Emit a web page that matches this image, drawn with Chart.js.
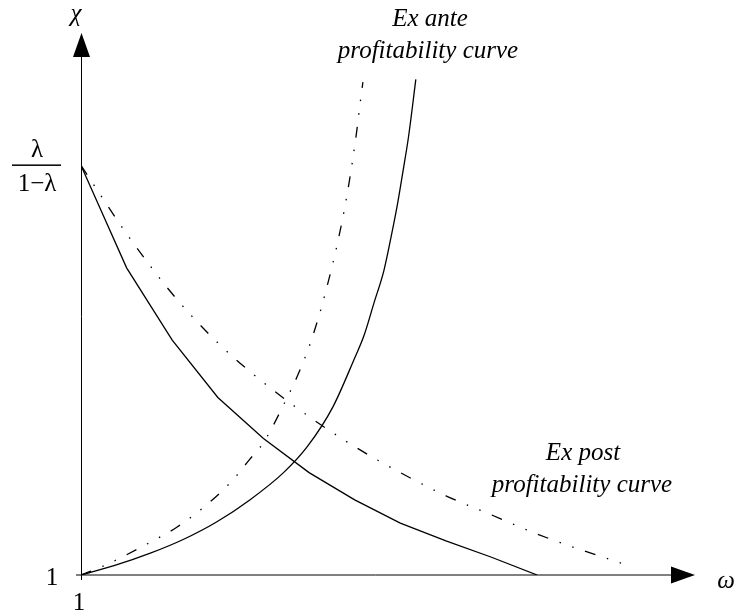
<!DOCTYPE html>
<html>
<head>
<meta charset="utf-8">
<script src="https://cdn.jsdelivr.net/npm/chart.js@4"></script>
<style>
  body { margin: 0; background: #fff; }
</style>
</head>
<body>
<canvas id="chart" width="736" height="614"></canvas>
<script>
// Ex post curves (decreasing in omega)
const postSolidX = [1, 1.5, 2, 2.5, 3, 3.5, 4, 4.5, 5, 5.5, 6];
const postSolidY = [4.00, 3.25, 2.72, 2.30, 2.00, 1.75, 1.55, 1.38, 1.25, 1.13, 1.00];
const postDashX = [1, 1.5, 2, 2.5, 3, 3.5, 4, 4.5, 5, 5.5, 6, 6.5, 7];
const postDashY = [4.00, 3.50, 3.06, 2.70, 2.41, 2.16, 1.94, 1.75, 1.58, 1.44, 1.30, 1.18, 1.07];

// Ex ante curves (increasing in omega)
const anteSolidX = [1, 1.37, 1.76, 2.12, 2.49, 2.85, 3.22, 3.48, 3.76, 4.00, 4.10, 4.21, 4.32, 4.40, 4.47, 4.53, 4.59, 4.67];
const anteSolidY = [1, 1.07, 1.16, 1.26, 1.39, 1.55, 1.75, 1.94, 2.23, 2.59, 2.75, 2.99, 3.23, 3.48, 3.72, 3.96, 4.21, 4.63];
const anteDashX = [1, 1.26, 1.76, 2.05, 2.37, 2.67, 2.84, 3.00, 3.26, 3.38, 3.53, 3.68, 3.84, 3.94, 4.02, 4.07, 4.09];
const anteDashY = [1, 1.07, 1.24, 1.35, 1.51, 1.70, 1.84, 1.97, 2.30, 2.47, 2.73, 3.07, 3.52, 3.88, 4.24, 4.51, 4.61];

const pts = (xs, ys) => xs.map((x, i) => ({ x: x, y: ys[i] }));
const dashDotDot = [11, 12, 1.5, 12, 1.5, 12];

const axesPlugin = {
  id: 'axes',
  afterDraw(chart) {
    const ctx = chart.ctx;
    const a = chart.chartArea;
    ctx.save();
    ctx.strokeStyle = '#000';
    ctx.lineWidth = 1;
    // y axis
    ctx.beginPath();
    ctx.moveTo(a.left + 0.5, a.bottom + 5);
    ctx.lineTo(a.left + 0.5, a.top + 20);
    ctx.stroke();
    // x axis
    ctx.beginPath();
    ctx.moveTo(a.left - 5, a.bottom);
    ctx.lineTo(a.right - 20, a.bottom);
    ctx.stroke();
    // arrow heads
    ctx.fillStyle = '#000';
    ctx.beginPath();
    ctx.moveTo(a.left + 0.5, a.top);
    ctx.lineTo(a.left - 8, a.top + 24);
    ctx.lineTo(a.left + 9, a.top + 24);
    ctx.closePath();
    ctx.fill();
    ctx.beginPath();
    ctx.moveTo(a.right, a.bottom);
    ctx.lineTo(a.right - 24, a.bottom - 8.5);
    ctx.lineTo(a.right - 24, a.bottom + 8.5);
    ctx.closePath();
    ctx.fill();

    // labels
    ctx.textAlign = 'center';
    ctx.textBaseline = 'middle';
    ctx.font = 'italic 25px "Liberation Serif"';
    ctx.fillText('\u03C7', 76, 14);
    ctx.fillText('\u03C9', 726, 581);
    ctx.fillText('Ex ante', 430, 19);
    ctx.fillText('profitability curve', 428, 51);
    ctx.fillText('Ex post', 583, 453);
    ctx.fillText('profitability curve', 582, 485);

    ctx.font = '25px "Liberation Serif"';
    const yTop = chart.scales.y.getPixelForValue(postSolidY[0]);
    ctx.fillText('\u03BB', 37, yTop - 15);
    ctx.fillText('1\u2212\u03BB', 37, yTop + 19);
    ctx.fillRect(12, yTop - 1, 49, 1.5);
    ctx.fillText('1', 52, a.bottom + 3);
    ctx.fillText('1', a.left - 2, a.bottom + 28);
    ctx.restore();
  }
};

new Chart(document.getElementById('chart').getContext('2d'), {
  type: 'line',
  data: {
    datasets: [
      { data: pts(postSolidX, postSolidY), borderColor: '#000', borderWidth: 1.3, tension: 0, pointRadius: 0 },
      { data: pts(postDashX, postDashY), borderColor: '#000', borderWidth: 1.3, borderDash: dashDotDot, cubicInterpolationMode: 'monotone', pointRadius: 0 },
      { data: pts(anteSolidX, anteSolidY), borderColor: '#000', borderWidth: 1.3, cubicInterpolationMode: 'monotone', pointRadius: 0 },
      { data: pts(anteDashX, anteDashY), borderColor: '#000', borderWidth: 1.3, borderDash: dashDotDot, cubicInterpolationMode: 'monotone', pointRadius: 0 }
    ]
  },
  options: {
    responsive: false,
    animation: false,
    layout: { padding: { left: 81, right: 41, top: 33, bottom: 39 } },
    plugins: { legend: { display: false }, tooltip: { enabled: false } },
    scales: {
      x: { type: 'linear', min: 1, max: 7.73, display: false },
      y: { type: 'linear', min: 1, max: 4.97, display: false }
    }
  },
  plugins: [axesPlugin]
});
</script>
</body>
</html>
